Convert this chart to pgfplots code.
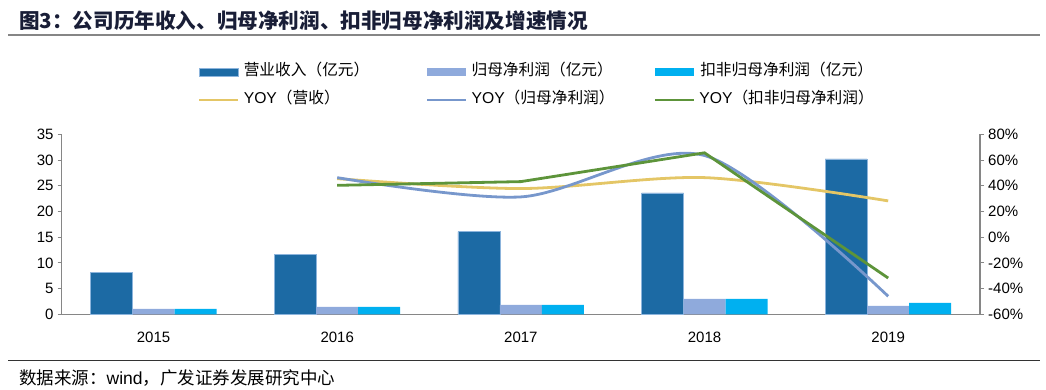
\documentclass[border=0pt]{standalone}
\usepackage{pgfplots}
\pgfplotsset{compat=1.18}
\usepackage{fontspec}
\setmainfont{Liberation Sans}
\newfontfamily\cjk{Noto Sans CJK SC}
\definecolor{crev}{RGB}{28,106,164}
\definecolor{crevedge}{RGB}{140,180,220}
\definecolor{cnet}{RGB}{143,170,220}
\definecolor{cded}{RGB}{0,176,240}
\definecolor{cyy}{RGB}{228,198,102}
\definecolor{cyb}{RGB}{119,151,204}
\definecolor{cyg}{RGB}{93,148,58}
\definecolor{axgray}{RGB}{134,134,134}
\definecolor{titlecol}{RGB}{25,30,55}
\pgfplotsset{
  barleg/.style={legend image code/.code={\fill[##1] (0pt,-4pt) rectangle (39pt,4pt);}},
  lineleg/.style={legend image code/.code={\draw[##1] (0pt,0pt) -- (39pt,0pt);}},
  common/.style={
    at={(61.7pt,75.7pt)}, anchor=south west, scale only axis,
    width=918.3pt, height=180pt,
    xmin=-0.5, xmax=4.5,
    axis line style={draw=axgray, line width=1.2pt},
    tick align=outside, major tick length=4pt,
    ytick style={draw=axgray, line width=1pt},
    xtick style={draw=none},
    ticklabel style={font=\fontsize{15}{18}\selectfont},
  }
}
\begin{document}
\begin{tikzpicture}[x=1pt,y=1pt]
\useasboundingbox (0,0) rectangle (1046,390);
\node[anchor=west, inner sep=0pt, text=titlecol, font={\cjk\bfseries\fontsize{20.6}{24}\selectfont}] at (19,369) {图3：公司历年收入、归母净利润、扣非归母净利润及增速情况};
\draw[draw=axgray, line width=2pt] (8,354.5) -- (1040,354.5);
\draw[draw=black!80, line width=1pt] (8,29) -- (1040,29);
\node[anchor=west, inner sep=0pt, font={\fontsize{17.5}{20}\selectfont}] at (19,12) {{\cjk 数据来源：}wind{\cjk ，广发证券发展研究中心}};

\begin{axis}[common,
  ymin=0, ymax=35,
  axis x line*=bottom, axis y line*=left,
  xtick={0,1,2,3,4}, xticklabels={2015,2016,2017,2018,2019},
  xticklabel style={inner sep=0pt, anchor=north, yshift=-13.5pt},
  ytick={0,5,10,15,20,25,30,35}, yticklabels={0,5,10,15,20,25,30,35},
  yticklabel style={inner sep=0pt, anchor=east, xshift=-4pt},
  legend columns=3,
  legend style={at={(axis description cs:0.1484,1.388)}, anchor=north west,
    draw=none, fill=none, inner sep=0pt, outer sep=0pt,
    column sep=4pt, row sep=13pt, font=\fontsize{15.7}{18}\selectfont,
    nodes={inner sep=0pt, text height=11pt, text depth=4pt}},
]
\addplot[ybar, bar width=42pt, bar shift=-42pt, fill=crev, draw=crevedge, line width=0.6pt, barleg]
  coordinates {(0,8.1) (1,11.67) (2,16.07) (3,23.6) (4,30.2)};
\addlegendentry[text width=178pt]{\cjk 营业收入（亿元）}
\addplot[ybar, bar width=42pt, bar shift=0pt, fill=cnet, draw=none, barleg]
  coordinates {(0,1.04) (1,1.43) (2,1.81) (3,2.99) (4,1.63)};
\addlegendentry[text width=178pt]{\cjk 归母净利润（亿元）}
\addplot[ybar, bar width=42pt, bar shift=42pt, fill=cded, draw=none, barleg]
  coordinates {(0,1.04) (1,1.43) (2,1.81) (3,2.99) (4,2.21)};
\addlegendentry{\cjk 扣非归母净利润（亿元）}
\addlegendimage{lineleg, color=cyy, line width=2.8pt}
\addlegendentry[text width=178pt]{YOY{\cjk（营收）}}
\addlegendimage{lineleg, color=cyb, line width=2.8pt}
\addlegendentry[text width=178pt]{YOY{\cjk（归母净利润）}}
\addlegendimage{lineleg, color=cyg, line width=2.8pt}
\addlegendentry{YOY{\cjk（扣非归母净利润）}}
\end{axis}

\begin{axis}[common,
  ymin=-60, ymax=80,
  axis x line=none, axis y line*=right,
  ytick={-60,-40,-20,0,20,40,60,80},
  yticklabels={-60\%,-40\%,-20\%,0\%,20\%,40\%,60\%,80\%},
  yticklabel style={inner sep=0pt, anchor=west, xshift=4pt},
]
\addplot[color=cyy, line width=2.8pt, smooth] coordinates {(1,45.5) (2,37.8) (3,46.3) (4,28.2)};
\addplot[color=cyb, line width=2.8pt, smooth] coordinates {(1,46.3) (2,31.3) (3,63.5) (4,-46)};
\addplot[color=cyg, line width=2.8pt, sharp plot] coordinates {(1,40.3) (2,43.2) (3,65.6) (4,-31.8)};
\end{axis}
\end{tikzpicture}
\end{document}
